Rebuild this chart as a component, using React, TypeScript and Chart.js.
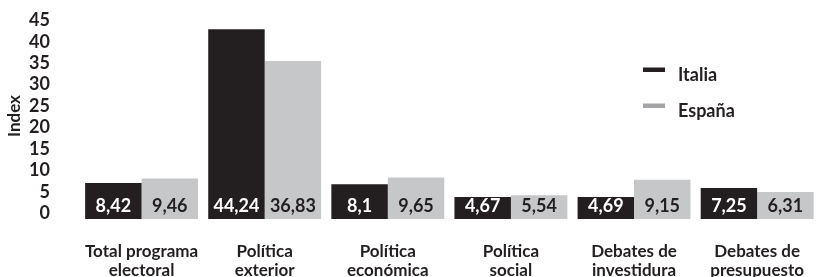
import React, { useEffect, useRef } from "react";
import { Chart, registerables } from "chart.js";

Chart.register(...registerables);

const categories: string[][] = [
  ["Total programa", "electoral"],
  ["Política", "exterior"],
  ["Política", "económica"],
  ["Política", "social"],
  ["Debates de", "investidura"],
  ["Debates de", "presupuesto"],
];
const seriesNames = ["Italia", "España"];
const italia = [8.42, 44.24, 8.1, 4.67, 4.69, 7.25];
const espana = [9.46, 36.83, 9.65, 5.54, 9.15, 6.31];
const yTicks = [0, 5, 10, 15, 20, 25, 30, 35, 40, 45];
const yTitle = "Index";

const DARK = "#231f20";
const LIGHT = "#c6c7c9";
const LEGEND_LIGHT = "#a3a4a6";
const FONT = "Lato, 'Open Sans', sans-serif";

const fmt = (v: number) => String(v).replace(".", ",");

const valueLabels = {
  id: "valueLabels",
  afterDatasetsDraw(chart: any) {
    const ctx = chart.ctx;
    ctx.save();
    ctx.font = `bold 18px ${FONT}`;
    ctx.textAlign = "center";
    ctx.textBaseline = "middle";
    chart.data.datasets.forEach((ds: any, i: number) => {
      const meta = chart.getDatasetMeta(i);
      meta.data.forEach((bar: any, j: number) => {
        const p = bar.getProps(["x", "base"], true);
        ctx.fillStyle = i === 0 ? "#ffffff" : DARK;
        ctx.fillText(fmt(ds.data[j]), p.x, p.base - 13);
      });
    });
    ctx.restore();
  },
};

const customLegend = {
  id: "customLegend",
  afterDraw(chart: any) {
    const ctx = chart.ctx;
    ctx.save();
    ctx.font = `bold 18px ${FONT}`;
    ctx.textAlign = "left";
    ctx.textBaseline = "alphabetic";
    const baselines = [81, 117];
    chart.data.datasets.forEach((ds: any, i: number) => {
      const b = baselines[i];
      ctx.fillStyle = i === 0 ? DARK : LEGEND_LIGHT;
      ctx.fillRect(643, b - 13.5, 22, 4.5);
      ctx.fillStyle = DARK;
      ctx.fillText(ds.label, 678, b);
    });
    // y axis title
    ctx.translate(15, 116);
    ctx.rotate(-Math.PI / 2);
    ctx.font = `bold 17px ${FONT}`;
    ctx.textAlign = "center";
    ctx.textBaseline = "middle";
    ctx.fillText(yTitle, 0, 0);
    ctx.restore();
  },
};

export default function App() {
  const ref = useRef<HTMLCanvasElement | null>(null);
  useEffect(() => {
    if (!ref.current) return;
    const chart = new Chart(ref.current, {
      type: "bar",
      data: {
        labels: categories,
        datasets: [
          { label: seriesNames[0], data: italia, backgroundColor: DARK, minBarLength: 22 },
          { label: seriesNames[1], data: espana, backgroundColor: LIGHT, minBarLength: 22 },
        ],
      },
      options: {
        responsive: false,
        animation: false,
        devicePixelRatio: 1,
        layout: { padding: { top: 26, left: 0, right: 0, bottom: 0 } },
        datasets: { bar: { barPercentage: 1, categoryPercentage: 0.917 } },
        plugins: { legend: { display: false }, tooltip: { enabled: false } },
        scales: {
          x: {
            grid: { display: false, drawTicks: false },
            border: { display: false },
            ticks: {
              color: DARK,
              font: { family: FONT, size: 17, weight: "bold", lineHeight: 1.12 },
              padding: 23,
              maxRotation: 0,
              autoSkip: false,
            },
            afterFit: (scale: any) => {
              scale.height = 58;
            },
          },
          y: {
            min: 0,
            max: 45,
            grid: { display: false, drawTicks: false },
            border: { display: false },
            afterBuildTicks: (scale: any) => {
              scale.ticks = yTicks.map((v) => ({ value: v }));
            },
            ticks: {
              color: DARK,
              font: { family: FONT, size: 18, weight: "bold" },
              padding: 30,
              labelOffset: -5.7,
              autoSkip: false,
              callback: (v: any) => String(v),
            },
            afterFit: (scale: any) => {
              scale.width = 80;
              scale.paddingTop = 0;
              scale.paddingBottom = 0;
            },
          },
        },
      },
      plugins: [valueLabels, customLegend],
    });
    return () => chart.destroy();
  }, []);
  return (
    <div
      style={{
        position: "fixed",
        left: 0,
        top: 0,
        width: 817,
        height: 277,
        overflow: "hidden",
        background: "#ffffff",
      }}
    >
      <canvas ref={ref} width={827} height={277} style={{ display: "block" }} />
    </div>
  );
}
